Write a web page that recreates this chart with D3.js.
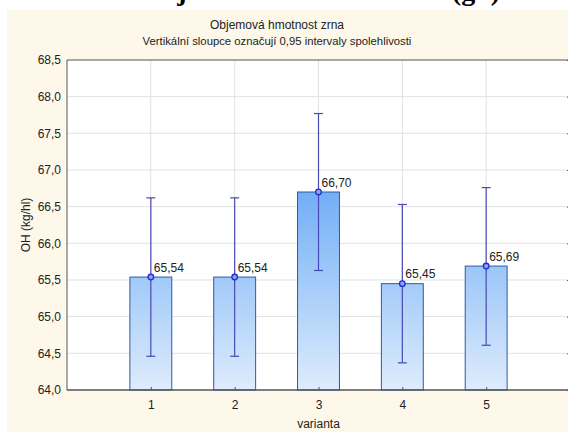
<!DOCTYPE html>
<html>
<head>
<meta charset="utf-8">
<script src="https://cdn.jsdelivr.net/npm/d3@7"></script>
<style>
  body { margin: 0; background: #fff; }
  svg { display: block; }
  .tick text { font-family: "Liberation Sans", Arial, sans-serif; font-size: 12px; fill: #222; }
</style>
</head>
<body>
<svg width="568" height="432"></svg>
<script>
// data
const categories = ['1', '2', '3', '4', '5'];
const means = [65.54, 65.54, 66.70, 65.45, 65.69];
const lower = [64.46, 64.46, 65.63, 64.37, 64.61];
const upper = [66.62, 66.62, 67.77, 66.53, 66.76];
const yTicks = [64.0, 64.5, 65.0, 65.5, 66.0, 66.5, 67.0, 67.5, 68.0, 68.5];

const caption = 'Objemová hmotnost zrna (g/l)';
const title1 = 'Objemová hmotnost zrna';
const title2 = 'Vertikální sloupce označují 0,95 intervaly spolehlivosti';
const xTitle = 'varianta';
const yTitle = 'OH (kg/hl)';

const cz = d3.formatLocale({ decimal: ',', thousands: ' ', grouping: [3], currency: ['', ' Kč'] });
const f1 = cz.format('.1f');
const f2 = cz.format('.2f');

const margin = { top: 60, right: -2, bottom: 42, left: 67 };
const W = 568, H = 432;
const svg = d3.select('svg');

// cream panel
svg.append('rect')
  .attr('x', 7).attr('y', 10)
  .attr('width', W - 7).attr('height', H - 10)
  .attr('fill', '#fdf8ea');

// caption of the page above the chart, cut by the top edge (only descenders show)
svg.append('text')
  .attr('x', 140).attr('y', -0.5)
  .attr('font-family', '"Liberation Serif", "Times New Roman", serif')
  .attr('font-weight', 'bold')
  .attr('font-size', 28)
  .attr('fill', '#000')
  .text(caption);

const x = d3.scaleLinear()
  .domain([0, categories.length + 1])
  .range([margin.left, W - margin.right]);

const y = d3.scaleLinear()
  .domain([64, 68.5])
  .range([H - margin.bottom, margin.top]);

const data = categories.map((c, i) => ({ c, pos: i + 1, mean: means[i], lo: lower[i], hi: upper[i] }));

// plot area
svg.append('rect')
  .attr('x', x(0)).attr('y', y(68.5))
  .attr('width', x(6) - x(0)).attr('height', y(64) - y(68.5))
  .attr('fill', '#fff');

// grid
const grid = svg.append('g');
grid.selectAll('line.h')
  .data(yTicks.slice(1, -1))
  .enter().append('line')
  .attr('x1', x(0)).attr('x2', x(6))
  .attr('y1', d => y(d)).attr('y2', d => y(d))
  .attr('stroke', '#e2e2e2');
grid.selectAll('line.v')
  .data(data)
  .enter().append('line')
  .attr('x1', d => x(d.pos)).attr('x2', d => x(d.pos))
  .attr('y1', y(68.5)).attr('y2', y(64))
  .attr('stroke', '#e2e2e2');

// gradient for bars, tied to the plot height
const defs = svg.append('defs');
const grad = defs.append('linearGradient')
  .attr('id', 'barGrad')
  .attr('gradientUnits', 'userSpaceOnUse')
  .attr('x1', 0).attr('x2', 0)
  .attr('y1', y(68.5)).attr('y2', y(64));
grad.append('stop').attr('offset', '0%').attr('stop-color', '#2a86f0');
grad.append('stop').attr('offset', '100%').attr('stop-color', '#deecfd');

const halfW = x(0.25) - x(0);

svg.append('g')
  .selectAll('rect')
  .data(data)
  .enter().append('rect')
  .attr('x', d => x(d.pos) - halfW)
  .attr('y', d => y(d.mean))
  .attr('width', halfW * 2)
  .attr('height', d => y(64) - y(d.mean))
  .attr('fill', 'url(#barGrad)')
  .attr('stroke', '#2d5aa6')
  .attr('stroke-width', 1);

// error bars
const eb = svg.append('g').attr('stroke', '#4848b6').attr('stroke-width', 1.2);
eb.selectAll('line.stem')
  .data(data)
  .enter().append('line')
  .attr('x1', d => x(d.pos)).attr('x2', d => x(d.pos))
  .attr('y1', d => y(d.hi)).attr('y2', d => y(d.lo));
eb.selectAll('line.top')
  .data(data)
  .enter().append('line')
  .attr('x1', d => x(d.pos) - 4.5).attr('x2', d => x(d.pos) + 4.5)
  .attr('y1', d => y(d.hi)).attr('y2', d => y(d.hi));
eb.selectAll('line.bot')
  .data(data)
  .enter().append('line')
  .attr('x1', d => x(d.pos) - 4.5).attr('x2', d => x(d.pos) + 4.5)
  .attr('y1', d => y(d.lo)).attr('y2', d => y(d.lo));

// mean dots
svg.append('g')
  .selectAll('circle')
  .data(data)
  .enter().append('circle')
  .attr('cx', d => x(d.pos))
  .attr('cy', d => y(d.mean))
  .attr('r', 2.8)
  .attr('fill', '#8fa0ff')
  .attr('stroke', '#1c2fd0')
  .attr('stroke-width', 1.3);

// value labels
svg.append('g')
  .selectAll('text')
  .data(data)
  .enter().append('text')
  .attr('x', d => x(d.pos) + 3)
  .attr('y', d => y(d.mean) - 5.5)
  .attr('font-family', '"Liberation Sans", Arial, sans-serif')
  .attr('font-size', 12)
  .attr('fill', '#222')
  .text(d => f2(d.mean));

// axes
const yAxis = svg.append('g')
  .attr('transform', `translate(${x(0)},0)`)
  .call(d3.axisLeft(y).tickValues(yTicks).tickFormat(f1).tickSize(0).tickPadding(6));
yAxis.select('.domain').remove();

const yAxisR = svg.append('g')
  .attr('transform', `translate(${x(6)},0)`)
  .call(d3.axisLeft(y).tickValues(yTicks).tickSize(3).tickFormat(''));
yAxisR.select('.domain').remove();
yAxisR.selectAll('line').attr('stroke', '#555');

const xAxis = svg.append('g')
  .attr('transform', `translate(0,${y(64)})`)
  .call(d3.axisBottom(x).tickValues(data.map(d => d.pos)).tickFormat((d, i) => categories[i]).tickSize(-3).tickPadding(10));
xAxis.select('.domain').remove();
xAxis.selectAll('line').attr('stroke', '#555');

// frame
svg.append('line')
  .attr('x1', x(0)).attr('x2', x(6)).attr('y1', y(68.5)).attr('y2', y(68.5))
  .attr('stroke', '#555');
svg.append('line')
  .attr('x1', x(0)).attr('x2', x(0)).attr('y1', y(68.5)).attr('y2', y(64))
  .attr('stroke', '#555');
svg.append('line')
  .attr('x1', x(0)).attr('x2', x(6)).attr('y1', y(64)).attr('y2', y(64))
  .attr('stroke', '#555').attr('stroke-width', 1.6);

// titles
const txt = (s, tx, ty, size, extra) => svg.append('text')
  .attr('x', tx).attr('y', ty)
  .attr('text-anchor', 'middle')
  .attr('font-family', '"Liberation Sans", Arial, sans-serif')
  .attr('font-size', size)
  .attr('fill', '#222')
  .attr('transform', extra || null)
  .text(s);

txt(title1, 277, 29, 12);
txt(title2, 277, 45, 11.3);
txt(xTitle, x(3), 428, 12);
txt(yTitle, 0, 0, 12, `translate(30,${(y(64) + y(68.5)) / 2}) rotate(-90)`);
</script>
</body>
</html>
